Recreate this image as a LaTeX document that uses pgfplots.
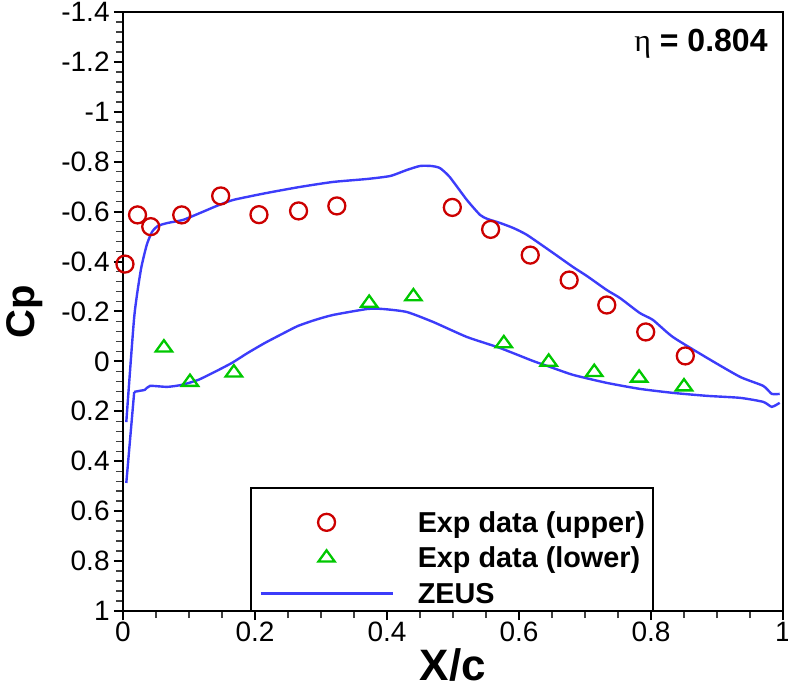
\documentclass[border=0pt]{standalone}
\usepackage{pgfplots}
\pgfplotsset{compat=1.18}
\usepackage{fontspec}
\setmainfont{Liberation Sans}
\newfontfamily\greekfont{Liberation Serif}
\definecolor{expred}{RGB}{204,0,0}
\definecolor{expgreen}{RGB}{0,200,0}
\definecolor{zeusblue}{RGB}{60,60,250}
\newcommand\tlfont{\fontsize{14}{16.8}\selectfont}
\pgfplotsset{
  markleg/.style={legend image code/.code={\draw[##1] plot coordinates {(33pt,0pt)};}},
  lineleg/.style={legend image code/.code={\draw[##1] (0pt,0pt) -- (66pt,0pt);}},
}
\begin{document}
\begin{tikzpicture}
\begin{axis}[
  width=330pt, height=299.5pt, scale only axis,
  xmin=0, xmax=1, ymin=-1.4, ymax=1, y dir=reverse,
  xtick={0,0.2,0.4,0.6,0.8,1},
  ytick={-1.4,-1.2,-1,-0.8,-0.6,-0.4,-0.2,0,0.2,0.4,0.6,0.8,1},
  minor x tick num=3, minor y tick num=4,
  tick align=outside, xtick pos=bottom, ytick pos=left,
  axis line style={line width=1.3pt},
  major tick length=4.5pt, minor tick length=3.5pt,
  every major tick/.append style={line width=1pt, black},
  every minor tick/.append style={line width=0.7pt, black!75},
  xticklabel={\tlfont\pgfmathprintnumber[assume math mode=true]{\tick}},
  yticklabel={\tlfont\pgfmathprintnumber[assume math mode=true]{\tick}},
  yticklabel style={inner sep=2pt},
  xticklabel style={inner sep=1pt},
  clip=false,
  legend cell align=left,
  legend style={draw=none, fill=none, at={(axis cs:0.206,0.579)}, anchor=north west,
    inner sep=0pt, row sep=1.75pt, column sep=12pt,
    nodes={inner sep=0pt, text height=13pt, text depth=3pt},
    font=\bfseries\fontsize{14.4}{17}\selectfont},
]
\draw[line width=1.3pt] (axis cs:0.194,1) rectangle (axis cs:0.803,0.507);
\addplot[only marks, mark=o, mark size=4.25pt, color=expred, line width=1.15pt, markleg]
coordinates {
(0.003,-0.390) (0.022,-0.587) (0.042,-0.540) (0.089,-0.587) (0.148,-0.663)
(0.206,-0.588) (0.266,-0.603) (0.324,-0.623) (0.499,-0.617) (0.557,-0.529)
(0.617,-0.426) (0.676,-0.326) (0.733,-0.226) (0.792,-0.118) (0.852,-0.022)
};
\addlegendentry{Exp data (upper)}
\addplot[only marks, mark=triangle, mark size=4.7pt, color=expgreen, line width=1.15pt,
  mark options={yscale=0.8}, markleg]
coordinates {
(0.062,-0.055) (0.1015,0.083) (0.168,0.045) (0.373,-0.234) (0.440,-0.260)
(0.577,-0.072) (0.645,0.002) (0.714,0.043) (0.782,0.066) (0.850,0.101)
};
\addlegendentry{Exp data (lower)}
\addplot[color=zeusblue, line width=1.2pt, smooth, tension=0.35, lineleg]
coordinates {
(0.005,0.243) (0.017,-0.178) (0.027,-0.366) (0.036,-0.467) (0.044,-0.519)
(0.053,-0.543) (0.068,-0.555) (0.091,-0.567) (0.117,-0.595) (0.142,-0.623)
(0.167,-0.647) (0.218,-0.675) (0.268,-0.699) (0.318,-0.719) (0.370,-0.731)
(0.405,-0.743) (0.430,-0.767) (0.450,-0.783) (0.467,-0.783) (0.480,-0.775)
(0.495,-0.739) (0.521,-0.647) (0.541,-0.587) (0.552,-0.571) (0.571,-0.555)
(0.591,-0.535) (0.612,-0.507) (0.652,-0.434) (0.682,-0.378) (0.703,-0.342)
(0.733,-0.286) (0.753,-0.254) (0.783,-0.194) (0.803,-0.166) (0.833,-0.098)
(0.885,-0.014) (0.935,0.062) (0.970,0.098) (0.983,0.130) (0.995,0.130)
};
\addlegendentry{ZEUS}
\addplot[color=zeusblue, line width=1.2pt, forget plot]
coordinates {(0.005,0.487) (0.017,0.122)};
\addplot[color=zeusblue, line width=1.2pt, smooth, tension=0.35, forget plot]
coordinates {
(0.017,0.122) (0.027,0.117) (0.033,0.114) (0.041,0.098)
(0.067,0.102) (0.089,0.094) (0.114,0.074) (0.139,0.042) (0.165,0.006)
(0.189,-0.034) (0.215,-0.074) (0.241,-0.110) (0.265,-0.142) (0.291,-0.166)
(0.318,-0.186) (0.370,-0.210) (0.394,-0.210) (0.430,-0.198) (0.470,-0.158)
(0.521,-0.098) (0.571,-0.054) (0.621,-0.002) (0.647,0.022) (0.682,0.054)
(0.733,0.086) (0.783,0.110) (0.833,0.126) (0.885,0.138) (0.935,0.146)
(0.970,0.162) (0.983,0.182) (0.995,0.166)
};
\coordinate (ne) at (axis cs:1,-1.4);
\coordinate (sw) at (axis cs:0,1);
\coordinate (ml) at (axis cs:0,-0.2);
\coordinate (bm) at (axis cs:0.5,1);
\end{axis}
\node[anchor=base east, inner sep=0pt] at ([xshift=-7.5pt,yshift=-20pt]ne)
  {\fontsize{16}{19}\selectfont{\greekfont η} \bfseries = 0.804};
\node[anchor=base, inner sep=0pt, rotate=90] at ([xshift=-44pt]ml)
  {\bfseries\fontsize{20}{24}\selectfont Cp};
\node[anchor=base, inner sep=0pt] at ([yshift=-35pt]bm)
  {\bfseries\fontsize{22}{26}\selectfont X/c};
\pgfresetboundingbox
\path ([xshift=-61.5pt,yshift=-39pt]sw) rectangle ([xshift=2.5pt,yshift=6pt]ne);
\end{tikzpicture}
\end{document}
